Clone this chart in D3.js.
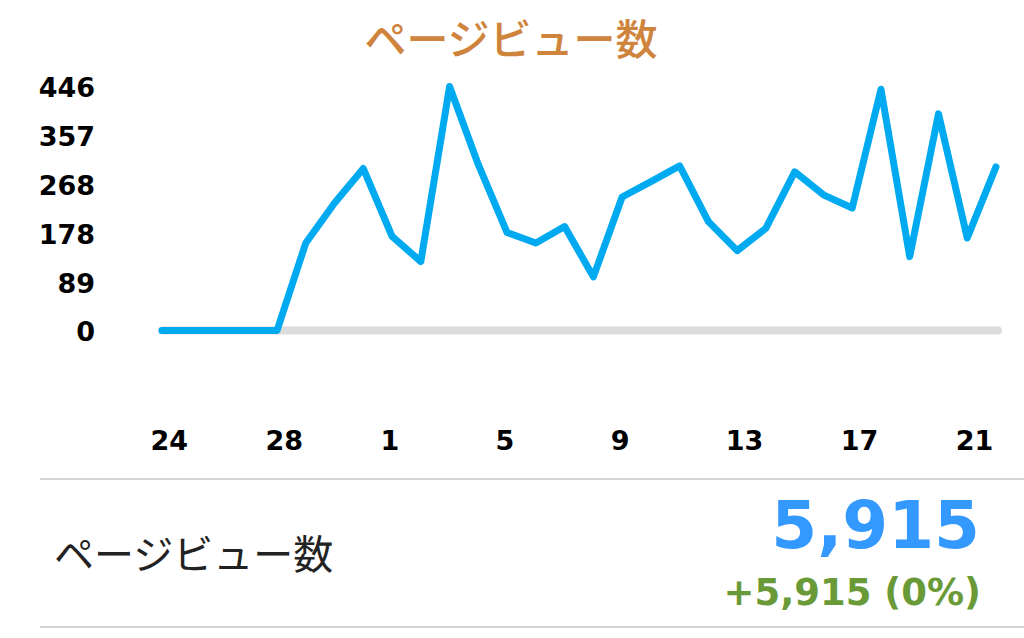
<!DOCTYPE html>
<html>
<head>
<meta charset="utf-8">
<script src="https://cdn.jsdelivr.net/npm/d3@7"></script>
<style>
  body { margin: 0; background: #fff; }
  svg { display: block; }
</style>
</head>
<body>
<div id="chart"></div>
<script>
// days shown on x axis (24 of previous month through 22)
const days = [24, 25, 26, 27, 28, 29, 30, 31, 1, 2, 3, 4, 5, 6, 7, 8, 9, 10, 11, 12, 13, 14, 15, 16, 17, 18, 19, 20, 21, 22];
const pageViews = [0, 0, 0, 0, 0, 160, 233, 296, 172, 126, 446, 303, 179, 160, 190, 98, 244, 272, 301, 199, 146, 187, 290, 248, 224, 441, 135, 396, 169, 299];
const yTicks = [0, 89, 178, 268, 357, 446];
const xTickDays = [24, 28, 1, 5, 9, 13, 17, 21];
const title = "ページビュー数";
const summaryLabel = "ページビュー数";
const totalText = "5,915";
const changeText = "+5,915 (0%)";

const width = 1024, height = 638;
const jp = "'Noto Sans CJK JP', 'Noto Sans', sans-serif";
const num = "'DejaVu Sans', 'Liberation Sans', sans-serif";

const svg = d3.select("#chart")
  .append("svg")
  .attr("width", width)
  .attr("height", height);

// scales
const x = d3.scaleLinear().domain([0, days.length - 1]).range([162, 996]);
const y = d3.scaleLinear().domain([0, 446]).range([330.5, 86.5]);

// title
svg.append("text")
  .text(title)
  .attr("x", 511)
  .attr("y", 55)
  .attr("text-anchor", "middle")
  .attr("font-family", jp)
  .attr("font-weight", 500)
  .attr("font-size", 42)
  .attr("fill", "#cf843d");

// y axis labels
const yAxis = d3.axisLeft(y).tickValues(yTicks).tickSize(0).tickPadding(0);
svg.append("g")
  .attr("transform", "translate(95,0)")
  .call(yAxis)
  .call(g => g.select(".domain").remove())
  .call(g => g.selectAll("text")
    .attr("dy", "0.38em")
    .attr("font-family", num)
    .attr("font-weight", "bold")
    .attr("font-size", 27)
    .attr("fill", "#000"));

// x axis labels (start-anchored a little left of the point, like the original)
const xAxis = d3.axisBottom(x)
  .tickValues(xTickDays.map(d => days.indexOf(d)))
  .tickFormat(i => days[i])
  .tickSize(0).tickPadding(0);
svg.append("g")
  .attr("transform", "translate(0,431)")
  .call(xAxis)
  .call(g => g.select(".domain").remove())
  .call(g => g.selectAll("text")
    .attr("x", -12)
    .attr("text-anchor", "start")
    .attr("font-family", num)
    .attr("font-weight", "bold")
    .attr("font-size", 27)
    .attr("fill", "#000"));

// grey baseline
svg.append("line")
  .attr("x1", x(0)).attr("x2", x(days.length - 1) + 2)
  .attr("y1", y(0)).attr("y2", y(0))
  .attr("stroke", "#dcdcdc")
  .attr("stroke-width", 8)
  .attr("stroke-linecap", "round");

// the line
const line = d3.line()
  .x((d, i) => x(i))
  .y(d => y(d));

svg.append("path")
  .datum(pageViews)
  .attr("d", line)
  .attr("fill", "none")
  .attr("stroke", "#00aaf0")
  .attr("stroke-width", 7)
  .attr("stroke-linejoin", "round")
  .attr("stroke-linecap", "round");

// summary section
svg.append("line")
  .attr("x1", 40).attr("x2", width)
  .attr("y1", 479).attr("y2", 479)
  .attr("stroke", "#d4d4d8").attr("stroke-width", 2);
svg.append("line")
  .attr("x1", 40).attr("x2", width)
  .attr("y1", 627).attr("y2", 627)
  .attr("stroke", "#d4d4d8").attr("stroke-width", 2);

svg.append("text")
  .text(summaryLabel)
  .attr("x", 54)
  .attr("y", 569)
  .attr("font-family", jp)
  .attr("font-size", 40)
  .attr("fill", "#222");

svg.append("text")
  .text(totalText)
  .attr("x", 980)
  .attr("y", 548)
  .attr("text-anchor", "end")
  .attr("font-family", num)
  .attr("font-weight", "bold")
  .attr("font-size", 66)
  .attr("fill", "#3399ff");

svg.append("text")
  .text(changeText)
  .attr("x", 981)
  .attr("y", 605)
  .attr("text-anchor", "end")
  .attr("font-family", num)
  .attr("font-weight", "bold")
  .attr("font-size", 37)
  .attr("fill", "#6a9a38");
</script>
</body>
</html>
